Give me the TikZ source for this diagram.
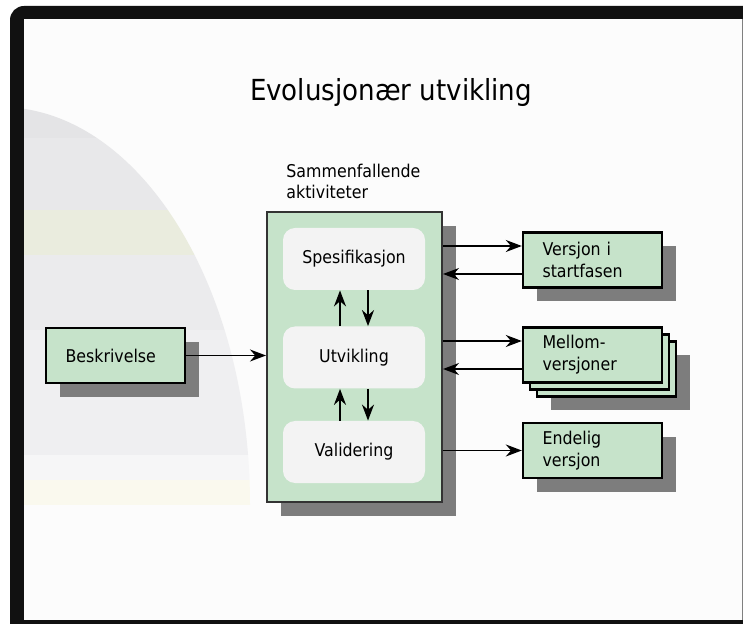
\documentclass[tikz,border=0pt]{standalone}
\usepackage{fontspec}
\setmainfont{DejaVu Sans}[FakeStretch=0.9]
\usepackage{tikz}
\usetikzlibrary{arrows.meta,positioning,shadows}

\definecolor{boxgreen}{RGB}{198,227,202}
\definecolor{actgray}{RGB}{243,243,243}
\definecolor{shadowgray}{RGB}{125,125,125}
\definecolor{bgcol}{RGB}{252,252,252}
\definecolor{framecol}{RGB}{17,17,17}
\definecolor{bandA}{RGB}{228,228,230}
\definecolor{bandB}{RGB}{232,232,234}
\definecolor{bandC}{RGB}{234,236,222}
\definecolor{bandD}{RGB}{235,235,237}
\definecolor{bandE}{RGB}{239,239,241}
\definecolor{bandF}{RGB}{246,246,247}
\definecolor{bandG}{RGB}{250,249,238}

\begin{document}
\begin{tikzpicture}[x=0.5pt, y=-0.5pt, every node/.style={font=\fontsize{8.8}{11}\selectfont},
  dropsh/.style={general shadow={fill=shadowgray, shadow xshift=#1, shadow yshift=-#1}},
  box/.style={draw=black, line width=1.2pt, fill=boxgreen, minimum width=69.5pt, minimum height=27.5pt, text width=50pt, inner xsep=9.5pt, align=left},
  stackcopy/.style={general shadow={fill=boxgreen, draw=black, line width=1.2pt, shadow xshift=#1, shadow yshift=-#1}},
  bigbox/.style={draw=black!80, line width=1pt, fill=boxgreen, minimum width=87.5pt, minimum height=145pt, dropsh=7pt},
  actbox/.style={fill=actgray, rounded corners=6pt, minimum width=71pt, minimum height=31pt},
  arr/.style={-{Stealth[length=8pt,width=6pt,inset=2.6pt]}, line width=0.75pt},
  updown/.style={arr, line width=1pt}]
\useasboundingbox (0,0) rectangle (743,624);
% frame and background
\fill[white] (0,0) rectangle (743,624);
\fill[framecol] (10,624) [rounded corners=7pt] -- (10,6) [sharp corners] -- (743,6) -- (743,624) -- cycle;
\fill[bgcol] (24,19) rectangle (743,620);
\draw[gray, line width=0.5pt] (742,19) -- (742,620);
\begin{scope}
\clip (24,100) rectangle (260,505);
\clip (0,505) ellipse [x radius=125pt, y radius=199pt];
\fill[bandA] (24,100) rectangle (260,138);
\fill[bandB] (24,138) rectangle (260,210);
\fill[bandC] (24,210) rectangle (260,255);
\fill[bandD] (24,255) rectangle (260,330);
\fill[bandE] (24,330) rectangle (260,455);
\fill[bandF] (24,455) rectangle (260,480);
\fill[bandG] (24,480) rectangle (260,505);
\end{scope}

\node[font=\fontsize{14.5}{17}\selectfont] (title) at (391,93) {Evolusjonær utvikling};

% concurrent activities
\node[bigbox] (act) at (354.5,357) {};
\node[actbox] (spec) at (354,259) {Spesifikasjon};
\node[actbox] (utv) at (354,357.5) {Utvikling};
\node[actbox] (val) at (354,452) {Validering};
\node[align=left, inner sep=0pt, font=\fontsize{8.8}{10.5}\selectfont, above right=6pt and 10pt of act.north west] (lbl) {Sammenfallende\\aktiviteter};

% outline and versions
\node[box, dropsh=7pt] (besk) at (115.5,355.5) {Beskrivelse};
\node[box, dropsh=7pt] (v1) at (592.5,260) {Versjon i\\startfasen};
\node[box, dropsh=14pt, stackcopy=7pt, stackcopy=3.5pt] (v2) at (592.5,355) {Mellom-\\versjoner};
\node[box, dropsh=7pt] (v3) at (592.5,450.5) {Endelig\\versjon};

\coordinate (v1a) at ([yshift=7pt]v1.west);
\coordinate (v1b) at ([yshift=-7pt]v1.west);
\coordinate (v2a) at ([yshift=7pt]v2.west);
\coordinate (v2b) at ([yshift=-7pt]v2.west);

\draw[arr] (besk.east) -- (besk.east -| act.west);
\draw[arr] (v1a -| act.east) -- (v1a);
\draw[arr] (v1b) -- (v1b -| act.east);
\draw[arr] (v2a -| act.east) -- (v2a);
\draw[arr] (v2b) -- (v2b -| act.east);
\draw[arr] (v3.west -| act.east) -- (v3.west);

\draw[updown] ([xshift=-7pt]utv.north) -- ([xshift=-7pt]spec.south);
\draw[updown] ([xshift=7pt]spec.south) -- ([xshift=7pt]utv.north);
\draw[updown] ([xshift=-7pt]val.north) -- ([xshift=-7pt]utv.south);
\draw[updown] ([xshift=7pt]utv.south) -- ([xshift=7pt]val.north);
\end{tikzpicture}
\end{document}
